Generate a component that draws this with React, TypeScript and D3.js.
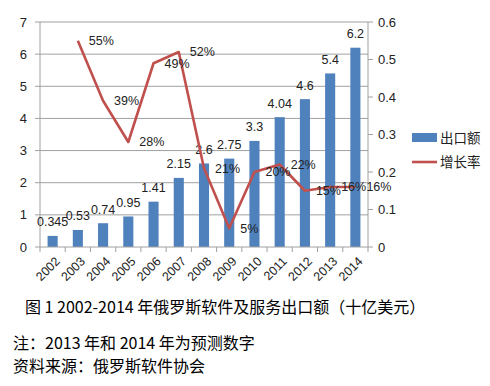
import React from 'react';
import { scaleBand, scaleLinear, line } from 'd3';

const years = ['2002', '2003', '2004', '2005', '2006', '2007', '2008', '2009', '2010', '2011', '2012', '2013', '2014'];
const exports = [0.345, 0.53, 0.74, 0.95, 1.41, 2.15, 2.6, 2.75, 3.3, 4.04, 4.6, 5.4, 6.2];
const exportLabels = ['0.345', '0.53', '0.74', '0.95', '1.41', '2.15', '2.6', '2.75', '3.3', '4.04', '4.6', '5.4', '6.2'];
const growthYears = ['2003', '2004', '2005', '2006', '2007', '2008', '2009', '2010', '2011', '2012', '2013', '2014'];
const growth = [0.55, 0.39, 0.28, 0.49, 0.52, 0.21, 0.05, 0.2, 0.22, 0.15, 0.16, 0.16];
const growthLabels = ['55%', '39%', '28%', '49%', '52%', '21%', '5%', '20%', '22%', '15%', '16%', '16%'];
const leftTicks = [0, 1, 2, 3, 4, 5, 6, 7];
const rightTicks = [0, 0.1, 0.2, 0.3, 0.4, 0.5, 0.6];
const legendNames = ['出口额', '增长率'];
const caption = '图 1 2002-2014 年俄罗斯软件及服务出口额（十亿美元）';
const notes = ['注：2013 年和 2014 年为预测数字', '资料来源：俄罗斯软件协会'];

const BLUE = '#4f81bd';
const RED = '#c0504d';
const GRID = '#a0a0a0';
const NUM_FONT = '"Liberation Sans", Arial, sans-serif';
const CJK_FONT = '"Noto Sans CJK SC", sans-serif';

export default function App() {
  const width = 490;
  const height = 386;
  const plot = { left: 40, right: 368, top: 22, bottom: 247 };

  const x = scaleBand<string>()
    .domain(years)
    .range([plot.left, plot.right])
    .paddingInner(0.6)
    .paddingOuter(0.3);
  const yLeft = scaleLinear().domain([0, 7]).range([plot.bottom, plot.top]);
  const yRight = scaleLinear().domain([0, 0.6]).range([plot.bottom, plot.top]);
  const cx = (yr: string) => (x(yr) ?? 0) + x.bandwidth() / 2;

  const growthLine = line<number>()
    .x((_, i) => cx(growthYears[i]))
    .y(d => yRight(d));

  const step = x.step();
  const boundaries = years.map((_, i) => plot.left + i * step).concat([plot.right]);

  return (
    <svg width={width} height={height} style={{ position: 'absolute', left: 0, top: 0, background: '#fff' }}>
      {/* gridlines */}
      {leftTicks.slice(1).map(t => (
        <line key={t} x1={plot.left} x2={plot.right} y1={yLeft(t)} y2={yLeft(t)} stroke={GRID} strokeWidth={1} />
      ))}

      {/* left axis */}
      <line x1={plot.left} x2={plot.left} y1={plot.top} y2={plot.bottom} stroke={GRID} />
      {leftTicks.map(t => (
        <g key={t}>
          <line x1={plot.left - 5} x2={plot.left} y1={yLeft(t)} y2={yLeft(t)} stroke={GRID} />
          <text x={plot.left - 13} y={yLeft(t)} dy="0.35em" textAnchor="end" fontSize={13} fontFamily={NUM_FONT} fill="#222">{t}</text>
        </g>
      ))}

      {/* right axis */}
      <line x1={plot.right} x2={plot.right} y1={plot.top} y2={plot.bottom} stroke={GRID} />
      {rightTicks.map(t => (
        <g key={t}>
          <line x1={plot.right} x2={plot.right + 5} y1={yRight(t)} y2={yRight(t)} stroke={GRID} />
          <text x={plot.right + 10} y={yRight(t)} dy="0.35em" textAnchor="start" fontSize={13} fontFamily={NUM_FONT} fill="#222">{t === 0 ? '0' : t.toFixed(1)}</text>
        </g>
      ))}

      {/* bars */}
      {exports.map((v, i) => (
        <rect key={years[i]} x={x(years[i])} y={yLeft(v)} width={x.bandwidth()} height={plot.bottom - yLeft(v)} fill={BLUE} />
      ))}

      {/* x axis */}
      <line x1={plot.left} x2={plot.right} y1={plot.bottom} y2={plot.bottom} stroke={GRID} />
      {boundaries.map((b, i) => (
        <line key={i} x1={b} x2={b} y1={plot.bottom} y2={plot.bottom + 5} stroke={GRID} />
      ))}
      {years.map(yr => (
        <text key={yr} transform={`translate(${cx(yr) + 5},${plot.bottom + 12}) rotate(-45)`} textAnchor="end" dy="0.35em"
          fontSize={12.5} fontFamily={NUM_FONT} fill="#222">{yr}</text>
      ))}

      {/* bar labels */}
      {exports.map((v, i) => (
        <text key={years[i]} x={cx(years[i])} y={yLeft(v) - 14} dy="0.35em" textAnchor="middle" fontSize={12.5} fontFamily={NUM_FONT} fill="#222">{exportLabels[i]}</text>
      ))}

      {/* growth line */}
      <path d={growthLine(growth) ?? ''} fill="none" stroke={RED} strokeWidth={2.6} strokeLinejoin="round" />
      {growth.map((v, i) => (
        <text key={growthYears[i]} x={cx(growthYears[i]) + 11} y={yRight(v)} dy="0.35em" textAnchor="start" fontSize={12.5} fontFamily={NUM_FONT} fill="#222">{growthLabels[i]}</text>
      ))}

      {/* legend */}
      <rect x={412} y={133} width={25} height={9} fill={BLUE} />
      <text x={440} y={138} dy="0.35em" fontSize={13.5} fontFamily={CJK_FONT} fill="#222">{legendNames[0]}</text>
      <line x1={412} x2={437} y1={162} y2={162} stroke={RED} strokeWidth={2.6} />
      <text x={440} y={162} dy="0.35em" fontSize={13.5} fontFamily={CJK_FONT} fill="#222">{legendNames[1]}</text>

      {/* caption and notes */}
      <text x={25} y={307} dy="0.35em" fontSize={16} fontFamily={CJK_FONT} fill="#000">{caption}</text>
      {notes.map((n, i) => (
        <text key={i} x={13} y={343 + i * 23} dy="0.35em" fontSize={16} fontFamily={CJK_FONT} fill="#000">{n}</text>
      ))}
    </svg>
  );
}
